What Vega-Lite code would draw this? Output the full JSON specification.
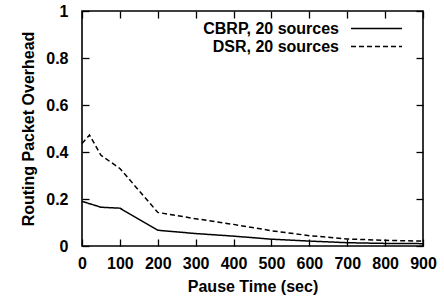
{
  "$schema": "https://vega.github.io/schema/vega-lite/v6.json",
  "width": 341,
  "height": 235,
  "autosize": "none",
  "padding": {"left": 82, "top": 11, "right": 21, "bottom": 60},
  "background": "white",
  "config": {
    "view": {"stroke": "black", "strokeWidth": 1.6},
    "font": "Liberation Sans",
    "axis": {"labelFont": "Liberation Sans", "titleFont": "Liberation Sans", "labelColor": "black", "titleColor": "black", "labelFontSize": 16, "titleFontSize": 16, "labelFontWeight": "bold", "titleFontWeight": "bold", "grid": false, "domain": false, "tickColor": "black", "tickWidth": 1.3, "tickSize": -7, "labelOverlap": false, "labelFlush": false}
  },
  "data": {"values": [
    {"t": 0, "v": 0.19, "s": "CBRP, 20 sources"},
    {"t": 50, "v": 0.165, "s": "CBRP, 20 sources"},
    {"t": 100, "v": 0.161, "s": "CBRP, 20 sources"},
    {"t": 200, "v": 0.067, "s": "CBRP, 20 sources"},
    {"t": 300, "v": 0.053, "s": "CBRP, 20 sources"},
    {"t": 400, "v": 0.042, "s": "CBRP, 20 sources"},
    {"t": 500, "v": 0.029, "s": "CBRP, 20 sources"},
    {"t": 600, "v": 0.021, "s": "CBRP, 20 sources"},
    {"t": 700, "v": 0.014, "s": "CBRP, 20 sources"},
    {"t": 800, "v": 0.011, "s": "CBRP, 20 sources"},
    {"t": 900, "v": 0.01, "s": "CBRP, 20 sources"},
    {"t": 0, "v": 0.436, "s": "DSR, 20 sources"},
    {"t": 20, "v": 0.472, "s": "DSR, 20 sources"},
    {"t": 50, "v": 0.386, "s": "DSR, 20 sources"},
    {"t": 100, "v": 0.33, "s": "DSR, 20 sources"},
    {"t": 200, "v": 0.143, "s": "DSR, 20 sources"},
    {"t": 300, "v": 0.116, "s": "DSR, 20 sources"},
    {"t": 400, "v": 0.092, "s": "DSR, 20 sources"},
    {"t": 500, "v": 0.065, "s": "DSR, 20 sources"},
    {"t": 600, "v": 0.044, "s": "DSR, 20 sources"},
    {"t": 700, "v": 0.03, "s": "DSR, 20 sources"},
    {"t": 800, "v": 0.024, "s": "DSR, 20 sources"},
    {"t": 900, "v": 0.021, "s": "DSR, 20 sources"}
  ]},
  "layer": [
    {
      "mark": {"type": "line", "color": "black", "strokeWidth": 1.5},
      "encoding": {
        "x": {"field": "t", "type": "quantitative", "scale": {"domain": [0, 900], "nice": false}, "axis": {"title": "Pause Time (sec)", "values": [0,100,200,300,400,500,600,700,800,900], "labelPadding": 16, "titlePadding": 7}},
        "y": {"field": "v", "type": "quantitative", "scale": {"domain": [0, 1], "nice": false}, "axis": {"title": "Routing Packet Overhead", "values": [0,0.2,0.4,0.6,0.8,1], "format": "~g", "labelPadding": 21, "titlePadding": 9}},
        "strokeDash": {"field": "s", "type": "nominal", "scale": {"domain": ["CBRP, 20 sources", "DSR, 20 sources"], "range": [[1, 0], [5, 3]]},
          "legend": {"title": null, "orient": "none", "legendX": 250, "legendY": 8, "symbolType": "M-3,0H3", "symbolSize": 289, "symbolStrokeColor": "black", "symbolFillColor": "transparent", "symbolStrokeWidth": 1.5, "labelAlign": "right", "labelOffset": -47, "symbolOffset": 35, "rowPadding": -3.5, "labelFontSize": 16, "labelFontWeight": "bold", "labelFont": "Liberation Sans", "labelColor": "black", "labelLimit": 300}}
      }
    },
    {
      "mark": {"type": "line", "opacity": 0},
      "encoding": {
        "x": {"field": "t", "type": "quantitative", "scale": {"domain": [0, 900], "nice": false}, "axis": {"orient": "top", "title": null, "labels": false, "values": [0,100,200,300,400,500,600,700,800,900]}},
        "y": {"field": "v", "type": "quantitative", "scale": {"domain": [0, 1], "nice": false}, "axis": {"orient": "right", "title": null, "labels": false, "values": [0,0.2,0.4,0.6,0.8,1]}}
      }
    }
  ],
  "resolve": {"axis": {"x": "independent", "y": "independent"}}
}
